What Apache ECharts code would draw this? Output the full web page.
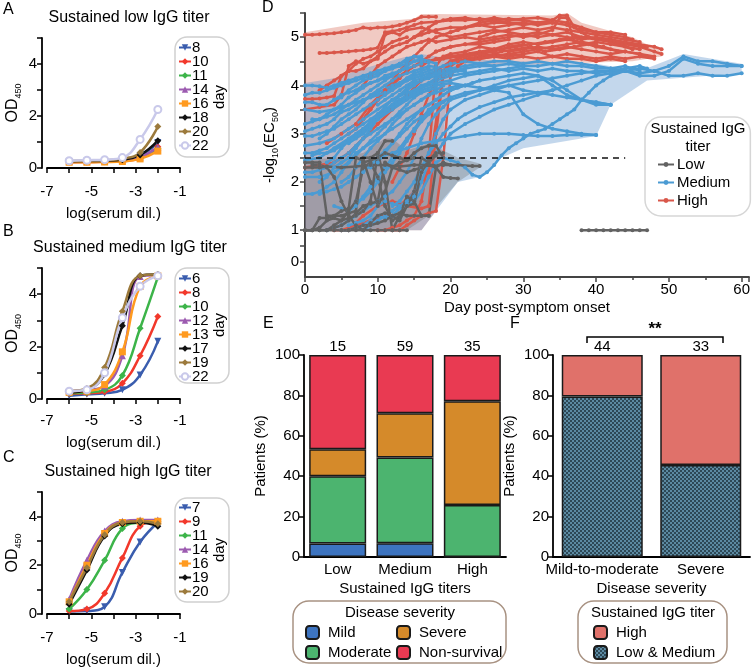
<!DOCTYPE html>
<html>
<head>
<meta charset="utf-8">
<script src="https://cdn.jsdelivr.net/npm/echarts@6/dist/echarts.min.js"></script>
<style>
  html, body { margin: 0; padding: 0; background: #fff; }
  #main { width: 753px; height: 668px; }
</style>
</head>
<body>
<div id="main"></div>
<script>
var FONT = "'Liberation Sans', Arial, Helvetica, sans-serif";

// ---- A-C: OD450 vs serum dilution ----
var dilutions = [-6, -5.2, -4.4, -3.6, -2.8, -2];
var lowDays = [8, 10, 11, 14, 16, 18, 20, 22];
var lowOD = [
  [0.25, 0.26, 0.27, 0.32, 0.48, 0.98],
  [0.22, 0.23, 0.24, 0.26, 0.38, 0.82],
  [0.24, 0.25, 0.26, 0.28, 0.40, 0.75],
  [0.25, 0.26, 0.27, 0.30, 0.42, 0.80],
  [0.22, 0.22, 0.23, 0.25, 0.35, 0.65],
  [0.26, 0.27, 0.28, 0.32, 0.50, 1.05],
  [0.27, 0.28, 0.30, 0.36, 0.60, 1.60],
  [0.28, 0.30, 0.32, 0.40, 1.10, 2.25]
];
var mediumDays = [6, 8, 10, 12, 13, 17, 19, 22];
var mediumOD = [
  [0.12, 0.18, 0.22, 0.35, 0.92, 2.20],
  [0.20, 0.22, 0.28, 0.60, 1.65, 3.15],
  [0.22, 0.25, 0.35, 0.90, 2.70, 4.65],
  [0.30, 0.35, 0.50, 1.65, 4.68, 4.72],
  [0.25, 0.30, 0.55, 1.80, 4.30, 4.70],
  [0.25, 0.35, 0.95, 2.80, 4.70, 4.75],
  [0.30, 0.40, 1.20, 3.35, 4.70, 4.75],
  [0.30, 0.35, 1.00, 3.10, 4.30, 4.70]
];
var highDays = [7, 9, 11, 14, 16, 19, 20];
var highOD = [
  [0.10, 0.12, 0.30, 1.70, 2.95, 3.75],
  [0.12, 0.20, 0.85, 2.30, 3.60, 3.80],
  [0.20, 1.00, 2.20, 3.50, 3.75, 3.80],
  [0.60, 2.20, 3.40, 3.80, 3.85, 3.85],
  [0.50, 2.00, 3.30, 3.75, 3.80, 3.80],
  [0.40, 1.80, 3.20, 3.70, 3.75, 3.60],
  [0.50, 1.90, 3.25, 3.75, 3.80, 3.70]
];
var curveColors = ['#3a5dae', '#f2382b', '#3cb449', '#9c5bb0', '#ff9a1f', '#111111', '#9c7a3c', '#c9c9ea'];
var curveSymbols = ['triangle', 'diamond', 'diamond', 'triangle', 'rect', 'diamond', 'diamond', 'emptyCircle'];

// ---- D: -log10(EC50) over time ----
var highLines = [
  [[0,5.05],[1,5.05],[2,5.06],[3,5.07],[4,5.08],[5,5.1],[6,5.12],[7,5.15],[8,5.2],[9,5.18],[10,5.2],[11,5.2],[12,5.22],[13,5.25],[14,5.3],[15,5.35],[16,5.42],[17,5.42],[18,5.42]],
  [[2,4.67],[3,4.67],[4,4.68],[5,4.69],[6,4.7],[7,4.72],[8,4.73],[9,4.75],[10,4.78],[11,5.1],[12,5.12],[13,5.15],[14,5.2],[15,5.25],[16,5.3],[18,5.32],[20,5.35],[22,5.35],[24,5.38],[26,5.35],[28,5.38],[30,5.35],[32,5.3],[34,5.35],[35,5.45],[36,5.45],[37,5.2],[39,5.0],[41,4.95],[43,4.85],[45,4.75]],
  [[0,3.72],[1,3.72],[2,3.73],[3,3.75],[4,3.78],[5,4.2],[6,4.3],[7,4.3],[8,4.35],[9,4.5],[10,4.6],[11,4.7],[12,4.8],[13,4.85],[14,4.9],[15,5.0],[16,5.05],[17,5.1],[18,5.15],[20,5.2],[22,5.2],[24,5.25],[26,5.3],[28,5.3],[30,5.3]],
  [[0,3.5],[2,3.55],[4,3.6],[5,3.8],[6,4.4],[7,4.5],[8,4.45],[10,4.55],[11,5.05],[12,5.1],[13,5.05],[14,5.15],[16,5.2],[18,5.1],[20,5.0],[22,5.05],[24,5.1],[26,5.15],[28,5.1],[30,5.05],[32,5.1],[34,5.05],[36,5.1],[38,5.0],[40,4.95],[42,4.9],[44,4.85],[46,4.8],[48,4.7],[49,4.65]],
  [[10,1.0],[11,1.0],[12,1.05],[13,1.1],[14,1.2],[15,1.3],[16,1.6],[17,2.5],[18,4.4],[19,4.6],[20,4.65],[22,4.7],[24,4.8],[26,4.75],[28,4.85],[30,4.9],[32,4.85],[34,4.9],[36,4.95],[38,4.9],[40,4.8],[42,4.75],[44,4.7],[46,4.65],[48,4.6]],
  [[4,1.0],[6,1.0],[8,1.3],[10,1.5],[12,1.6],[14,1.5],[16,1.45],[17,1.5],[18,3.0],[19,4.2],[20,4.4],[21,4.5],[23,4.55],[25,4.6],[27,4.7],[29,4.75],[31,4.8],[33,4.7],[35,4.75],[37,4.8],[39,4.85],[41,4.8],[43,4.7]],
  [[6,3.0],[7,3.1],[8,3.3],[9,3.5],[10,3.7],[11,3.9],[12,4.1],[13,4.3],[14,4.45],[15,4.6],[16,4.75],[17,4.9],[18,5.0],[19,5.05],[20,5.1],[21,5.15],[22,5.2],[24,5.25],[26,5.2],[28,5.25],[30,5.3],[32,5.25],[34,5.3]],
  [[3,2.8],[5,3.0],[7,3.2],[9,3.6],[11,3.9],[13,4.2],[15,4.4],[17,4.5],[19,4.55],[21,4.6],[23,4.65],[25,4.7],[27,4.75],[29,4.8],[31,4.85],[33,4.9],[35,4.95],[37,5.0],[39,5.0],[41,4.95],[43,4.9],[45,4.85],[47,4.8]],
  [[12,2.0],[13,2.3],[14,2.6],[15,3.0],[16,3.4],[17,3.8],[18,4.1],[19,4.3],[20,4.45],[22,4.55],[24,4.6],[26,4.65],[28,4.6],[30,4.65],[32,4.7],[34,4.6],[36,4.65],[38,4.6],[40,4.55],[42,4.6],[44,4.55],[46,4.6],[48,4.55]],
  [[14,4.9],[15,5.0],[16,5.1],[17,5.2],[18,5.3],[19,5.35],[20,5.38],[22,5.4],[24,5.35],[26,5.4],[28,5.35],[30,5.38],[32,5.4],[34,5.35],[36,5.3],[38,5.2],[40,5.1],[42,5.05],[44,5.0],[45,4.95]],
  [[8,4.0],[9,4.2],[10,4.4],[11,4.5],[12,4.6],[13,4.7],[14,4.8],[15,4.85],[16,4.9],[17,4.95],[18,4.9],[20,4.95],[22,5.0],[24,4.95],[26,5.0],[28,5.05],[30,5.0],[32,5.05],[34,5.15],[35,5.4],[36,5.4],[37,4.9],[38,4.85],[40,4.9],[42,4.85],[44,4.8],[46,4.75]],
  [[16,4.4],[17,4.5],[18,4.55],[20,4.6],[22,4.65],[24,4.7],[26,4.75],[28,4.7],[30,4.75],[32,4.8],[34,4.75],[36,4.8],[38,4.75],[40,4.7],[42,4.65],[44,4.7],[46,4.65],[47,4.6]],
  [[0,2.3],[2,2.35],[4,2.4],[6,2.6],[8,2.9],[10,3.2],[12,3.5],[14,3.8],[16,4.1],[18,4.3],[20,4.5],[22,4.6],[24,4.65],[26,4.7],[28,4.8],[30,4.85]],
  [[5,1.0],[7,1.1],[9,1.2],[11,1.3],[13,1.5],[15,1.8],[17,2.2],[19,4.3],[20,4.5],[22,4.6],[24,4.65],[26,4.6],[28,4.65],[30,4.7],[32,4.75],[34,4.8],[36,4.85],[38,4.9],[40,4.85]],
  [[18,4.7],[19,4.75],[20,4.8],[22,4.85],[24,4.9],[26,4.95],[28,5.0],[30,5.05],[32,5.0],[34,5.05],[36,5.0],[38,4.95],[40,5.0],[42,4.95],[44,4.9],[46,4.85],[48,4.8],[49,4.75]],
  [[20,5.1],[21,5.15],[22,5.2],[24,5.3],[26,5.35],[28,5.3],[30,5.25],[32,5.3],[34,5.3],[36,5.25],[38,5.15],[40,5.1],[42,5.1],[44,5.05]],
  [[22,4.5],[23,4.55],[24,4.55],[26,4.6],[28,4.55],[30,4.6],[32,4.55],[34,4.6],[36,4.55],[38,4.55],[40,4.5],[42,4.55],[44,4.5]],
  [[24,5.0],[25,5.05],[26,5.1],[28,5.15],[30,5.2],[32,5.15],[34,5.2],[36,5.15],[38,5.1],[40,5.05],[42,5.0],[44,4.95],[46,4.9]],
  [[2,3.9],[3,4.0],[4,4.1],[5,4.2],[6,4.3],[7,4.45],[8,4.55],[9,4.6],[10,4.7],[11,4.8],[12,4.9],[13,4.95],[14,5.0]],
  [[8,3.3],[9,3.5],[10,3.7],[11,3.85],[12,4.0],[13,4.15],[14,4.3],[15,4.4],[16,4.5],[17,4.6],[18,4.7],[19,4.75],[20,4.8],[22,4.85],[24,4.85],[26,4.9],[28,4.95]],
  [[12,1.0],[13,1.0],[14,1.1],[15,1.2],[16,1.3],[17,1.35],[18,1.4],[19,2.5],[20,4.2],[21,4.4],[22,4.5],[24,4.55],[26,4.6],[28,4.65],[30,4.6]]
];
var mediumLines = [
  [[0,4.0],[1,4.0],[2,3.98],[3,3.95],[4,4.0],[5,4.05],[6,4.1],[7,4.15],[8,4.2],[9,4.25],[10,4.3],[11,4.35],[12,4.4],[13,4.45],[14,4.5],[15,4.6],[16,4.55],[17,4.5],[18,4.45]],
  [[0,3.65],[1,3.65],[2,3.6],[3,3.6],[4,3.7],[5,3.8],[6,3.85],[7,3.9],[8,4.0],[9,4.05],[10,4.1],[11,4.15],[12,4.2],[13,4.3],[14,4.35],[15,4.4],[16,4.45]],
  [[0,3.5],[2,3.45],[4,3.5],[6,3.6],[8,3.7],[10,3.85],[12,4.0],[14,4.1],[16,4.2],[18,4.3],[20,4.35]],
  [[0,2.95],[1,2.95],[2,3.0],[3,3.05],[4,3.1],[5,3.2],[6,3.3],[7,3.4],[8,3.5],[9,3.6],[10,3.7],[11,3.8],[12,3.9],[13,4.0],[14,4.1],[15,4.2],[16,4.25],[17,4.3],[18,4.35],[19,4.4],[20,4.45],[22,4.5],[24,4.45],[26,4.5],[28,4.5],[30,4.45],[32,4.5],[34,4.45],[36,4.5],[38,4.45],[40,4.4],[42,4.35],[44,4.3],[46,4.2],[48,4.2],[50,4.3],[52,4.55],[54,4.45],[56,4.4],[58,4.4],[60,4.4]],
  [[0,2.6],[1,2.6],[2,2.65],[3,2.7],[4,2.8],[5,2.9],[6,3.0],[7,3.1],[8,3.2],[9,3.3],[10,3.4],[11,3.5],[12,3.6],[13,3.7],[14,3.8],[15,3.9],[16,4.0],[18,4.1],[20,4.2],[22,4.25],[24,4.3],[26,4.35],[28,4.3],[30,4.35],[32,4.3],[34,4.35],[36,4.3],[38,4.3],[40,4.25],[42,4.3],[44,4.3],[46,4.25],[48,4.3],[50,4.2],[52,4.2],[54,4.25],[56,4.2],[58,4.2],[60,4.25]],
  [[0,2.2],[1,2.2],[2,2.25],[3,2.3],[4,2.4],[5,2.5],[6,2.6],[7,2.75],[8,2.9],[9,3.0],[10,3.1],[11,3.2],[12,3.3],[13,3.4],[14,3.5],[15,3.6],[16,3.7],[17,3.8],[18,3.9],[19,4.0]],
  [[0,2.1],[2,2.1],[4,2.2],[6,2.4],[8,2.7],[10,2.9],[12,3.1],[14,3.3],[16,3.5],[18,3.7],[20,3.9],[22,4.0],[24,4.1],[26,4.15],[28,4.2],[30,4.25],[32,4.2],[34,4.0],[36,3.8],[38,3.7],[40,3.65],[42,3.6]],
  [[0,1.75],[1,1.75],[2,1.8],[3,1.9],[4,2.0],[5,2.2],[6,2.4],[7,2.6],[8,2.7],[9,2.85],[10,3.0],[11,3.15],[12,3.3],[13,3.45],[14,3.6],[15,3.75],[16,3.85],[17,3.9],[18,3.95]],
  [[3,1.0],[4,1.05],[5,1.1],[6,1.2],[7,1.3],[8,1.4],[9,1.5],[10,1.6],[11,1.7],[12,1.8],[13,2.0],[14,2.2],[15,2.5],[16,2.9],[17,3.2],[18,3.4],[19,3.55],[20,3.7],[22,3.8],[24,3.9],[26,3.95],[28,4.0],[30,3.9],[32,3.85],[34,3.8],[36,3.75],[38,3.7],[40,3.65],[42,3.6]],
  [[6,1.1],[7,1.15],[8,1.2],[9,1.3],[10,1.5],[11,1.6],[12,1.55],[13,1.5],[14,1.5],[15,1.6],[16,1.8],[17,2.1],[18,2.4],[19,2.5],[20,2.45],[21,2.4],[22,2.3],[23,2.15],[24,2.1],[25,2.2],[26,2.35],[27,2.55],[28,2.7],[29,2.8],[30,2.9],[31,3.0],[32,3.05],[33,3.1],[34,3.2],[35,3.3],[36,3.4],[37,3.5],[38,3.7],[39,3.85],[40,4.0],[41,4.1],[42,4.2],[44,4.3],[46,4.35],[48,4.3],[50,4.4],[52,4.6],[54,4.5],[56,4.5],[58,4.45],[60,4.4]],
  [[0,2.45],[2,2.5],[4,2.7],[6,2.9],[8,3.1],[10,3.3],[12,3.5],[14,3.7],[16,3.9],[18,4.0],[20,4.05],[22,4.0],[24,3.95],[26,3.9],[28,3.85],[30,3.4],[32,3.2],[34,3.1],[36,3.05],[38,3.0],[40,2.97]],
  [[10,2.5],[12,2.6],[14,2.7],[16,2.8],[18,2.85],[20,2.9],[22,2.95],[24,3.0],[26,3.0],[28,3.0],[30,2.97],[32,2.95],[34,2.95],[36,2.97],[38,2.97],[40,2.97]],
  [[4,1.5],[5,1.45],[6,1.4],[7,1.5],[8,1.7],[9,1.9],[10,2.1],[11,2.3],[12,2.5],[13,2.7],[14,2.9],[15,3.1],[16,3.3],[17,3.5],[18,3.6],[20,3.75],[22,3.85],[24,3.9],[26,4.0],[28,4.1],[30,4.15],[32,4.2],[34,4.1],[36,3.9],[38,3.7],[40,3.6],[42,3.6]],
  [[8,1.0],[9,1.1],[10,1.2],[11,1.3],[12,1.4],[13,1.5],[14,1.6],[15,1.8],[16,2.2],[17,2.6],[18,3.0],[19,3.3],[20,3.5],[22,3.7],[24,3.8],[26,3.9],[28,4.0],[30,4.05],[32,4.1],[34,4.15],[36,4.2],[38,4.25],[40,4.3],[42,4.3],[44,4.35],[46,4.4],[47,4.35]],
  [[1,3.3],[2,3.3],[3,3.35],[4,3.4],[5,3.5],[6,3.6],[7,3.7],[8,3.8],[9,3.9],[10,4.0],[11,4.1],[12,4.2],[13,4.3],[14,4.4],[15,4.5],[16,4.55]],
  [[2,2.0],[3,2.1],[4,2.3],[5,2.4],[6,2.5],[7,2.7],[8,2.9],[9,3.1],[10,3.3],[11,3.5],[12,3.6],[13,3.8],[14,3.9],[15,4.0],[16,4.1],[17,4.2],[18,4.25],[20,4.3],[22,4.35],[24,4.4],[26,4.4]],
  [[5,1.0],[6,1.0],[7,1.05],[8,1.1],[9,1.2],[10,1.3],[11,1.25],[12,1.3],[13,1.45],[14,1.55],[15,1.7],[16,2.0],[17,2.4],[18,2.6],[19,2.8],[20,3.0],[22,3.2],[24,3.35],[26,3.5],[28,3.6],[30,3.7],[32,3.8],[34,3.9],[36,4.0],[38,4.1],[40,4.2],[42,4.25],[44,4.3]],
  [[0,2.75],[2,2.8],[4,2.9],[6,3.1],[8,3.3],[10,3.5],[12,3.7],[14,3.85],[16,3.95],[18,4.05],[20,4.1],[22,4.2],[24,4.25],[26,4.3],[28,4.35],[30,4.4],[32,4.4],[34,4.45],[36,4.4],[38,4.4],[40,4.35],[42,4.35],[44,4.4],[46,4.3]],
  [[0,3.2],[1,3.25],[2,3.3],[3,3.4],[4,3.5],[5,3.6],[6,3.75],[7,3.85],[8,3.95],[9,4.05],[10,4.1],[11,4.2],[12,4.25],[13,4.3],[14,4.35]],
  [[2,2.9],[3,3.0],[4,3.15],[5,3.3],[6,3.4],[7,3.5],[8,3.65],[9,3.8],[10,3.9],[11,4.0],[12,4.1],[13,4.2],[14,4.25],[15,4.3],[16,4.35],[17,4.4],[18,4.38]],
  [[3,2.4],[4,2.5],[5,2.7],[6,2.85],[7,3.0],[8,3.1],[9,3.25],[10,3.4],[11,3.55],[12,3.7],[13,3.8],[14,3.95],[15,4.05],[16,4.1],[17,4.15],[18,4.2],[19,4.25],[20,4.3]],
  [[4,3.7],[5,3.75],[6,3.9],[7,4.0],[8,4.1],[9,4.15],[10,4.2],[11,4.3],[12,4.35],[13,4.45],[14,4.55],[15,4.6],[16,4.6]],
  [[5,2.0],[6,2.1],[7,2.3],[8,2.5],[9,2.7],[10,2.85],[11,3.0],[12,3.2],[13,3.35],[14,3.5],[15,3.6],[16,3.7],[17,3.8],[18,3.85],[19,3.9],[20,3.95],[21,4.0]],
  [[7,1.6],[8,1.65],[9,1.8],[10,2.0],[11,2.2],[12,2.4],[13,2.6],[14,2.85],[15,3.05],[16,3.25],[17,3.4],[18,3.55],[19,3.65],[20,3.75]],
  [[0,3.05],[1,3.1],[2,3.15],[3,3.2],[4,3.3],[5,3.45],[6,3.5],[7,3.6],[8,3.7],[9,3.75],[10,3.8],[11,3.85],[12,3.95],[13,4.05],[14,4.15],[15,4.25],[16,4.3],[17,4.35]],
  [[6,2.8],[7,2.9],[8,3.0],[9,3.15],[10,3.3],[11,3.45],[12,3.55],[13,3.65],[14,3.75],[15,3.85],[16,3.95],[17,4.05],[18,4.15],[19,4.2],[20,4.25],[21,4.3],[22,4.3]],
  [[9,2.3],[10,2.4],[11,2.6],[12,2.8],[13,3.0],[14,3.2],[15,3.35],[16,3.5],[17,3.6],[18,3.7],[19,3.8],[20,3.9],[21,3.95],[22,4.0],[23,4.05],[24,4.1]],
  [[1,2.55],[2,2.6],[3,2.6],[4,2.65],[5,2.75],[6,2.85],[7,2.95],[8,3.05],[9,3.2],[10,3.35],[11,3.45],[12,3.55],[13,3.65],[14,3.75],[15,3.8],[16,3.9]],
  [[10,3.6],[11,3.7],[12,3.8],[13,3.9],[14,4.0],[15,4.1],[16,4.15],[17,4.2],[18,4.25],[19,4.3],[20,4.35],[22,4.4],[24,4.45],[26,4.4],[28,4.45],[30,4.4]],
  [[2,1.75],[3,1.8],[4,1.85],[5,1.9],[6,2.0],[7,2.1],[8,2.2],[9,2.35],[10,2.5],[11,2.65],[12,2.8],[13,2.95],[14,3.1],[15,3.25],[16,3.35],[17,3.45],[18,3.55]],
  [[12,1.5],[13,1.6],[14,1.8],[15,2.0],[16,2.3],[17,2.6],[18,2.8],[19,3.0],[20,3.15],[21,3.3],[22,3.4],[24,3.55],[26,3.65],[28,3.75],[30,3.8],[32,3.85],[34,3.9]],
  [[0,3.8],[1,3.85],[2,3.85],[3,3.9],[4,3.95],[5,4.0],[6,4.05],[7,4.1],[8,4.15],[9,4.2],[10,4.25],[11,4.3],[12,4.35],[13,4.4],[14,4.45],[15,4.5],[16,4.5],[17,4.48]]
];
var lowLines = [
  [[0,2.3],[1,2.3],[2,2.3],[3,2.32],[5,2.3],[7,2.32],[9,2.35],[11,2.35],[13,2.32],[15,2.35],[17,2.35],[19,2.35],[21,2.35],[23,2.33],[24,2.33]],
  [[0,2.4],[1,2.4],[2,2.4],[3,1.3],[4,1.3],[5,1.3],[6,1.35],[7,1.4],[8,2.5],[9,2.5],[10,2.6],[11,2.85],[12,2.85]],
  [[0,1.0],[1,1.0],[2,1.0],[3,1.0],[4,1.0],[5,1.0],[6,1.0],[7,1.0],[8,1.0],[9,1.0],[10,1.0],[11,1.0],[12,1.0],[13,1.0],[14,1.0]],
  [[0,1.0],[1,1.0],[2,1.25],[3,1.25],[4,1.3],[5,1.4],[6,1.45],[7,2.5],[8,2.45],[9,2.0],[10,1.5],[11,1.8],[12,2.3],[13,2.4],[14,2.45],[15,2.5]],
  [[2,1.0],[3,1.0],[4,1.1],[5,1.2],[6,1.25],[7,1.3],[8,1.4],[9,1.6],[10,2.6],[11,2.0],[12,1.0],[13,1.3],[14,1.5],[15,1.8],[16,2.5],[17,2.4],[18,2.55]],
  [[1,2.35],[2,2.35],[3,2.3],[4,2.1],[5,1.6],[6,1.3],[7,1.1],[8,1.0],[9,1.15],[10,1.3],[11,1.35],[12,1.3],[13,1.2],[14,1.5],[15,1.55],[16,2.2],[17,2.45],[18,2.6],[19,2.6]],
  [[3,1.0],[4,1.05],[5,1.1],[6,1.2],[7,1.35],[8,1.5],[9,1.55],[10,1.6],[11,2.4],[12,2.3],[13,2.25],[14,2.2],[15,2.25],[16,2.3],[17,2.35],[18,2.3],[19,2.1],[20,2.08],[21,2.07]],
  [[5,1.0],[6,1.0],[7,1.05],[8,1.1],[9,1.1],[10,1.15],[11,1.2],[12,1.3],[13,1.35],[14,1.3],[15,1.3],[16,1.3],[17,1.3],[18,2.3],[19,2.4],[20,2.35]],
  [[8,2.4],[9,2.45],[10,2.5],[11,2.6],[12,2.55],[13,2.5],[14,2.45],[15,2.6],[16,2.7],[17,2.75],[18,2.75],[19,2.5]],
  [[0,1.0],[1,1.0],[2,1.05],[3,1.2],[4,1.25],[5,1.2],[6,1.4],[7,1.6],[8,2.3],[9,2.4],[10,2.1],[11,1.5],[12,1.2],[13,1.3],[14,1.7],[15,1.6],[16,1.3],[17,1.3]],
  [[38,1.0],[39,1.0],[40,1.0],[41,1.0],[42,1.0],[43,1.0],[44,1.0],[45,1.0],[46,1.0],[47,1.0]]
];
// range envelopes per group
var highBandUpper = [[0,5.1],[8,5.3],[15,5.38],[16,5.48],[18,5.48],[34,5.45],[36,5.5],[38,5.3],[45,5.0],[49,4.7]];
var highBandLower = [[0,1.0],[16,1.0],[18,1.4],[19,3.0],[20,4.3],[24,4.4],[35,4.45],[45,4.5],[49,4.6]];
var mediumBandUpper = [[0,4.05],[4,4.15],[8,4.35],[14,4.6],[16,4.65],[20,4.55],[30,4.5],[40,4.45],[46,4.3],[52,4.65],[60,4.45]];
var mediumBandLower = [[0,1.0],[16,1.0],[18,1.4],[21,2.0],[24,2.1],[27,2.5],[30,2.7],[40,2.95],[42,3.6],[47,4.1],[60,4.25]];
var lowBandUpper = [[0,2.45],[4,2.5],[8,2.6],[11,2.9],[12,2.9],[14,2.65],[17,2.8],[19,2.65],[21,2.5],[24,2.38]];
var lowBandLower = [[0,1.0],[14,1.0],[17,1.3],[21,2.0],[24,2.3]];
var cutoffValue = 2.5;
var cutoffEndDay = 44;
var dLabelValues = [0.34, 1, 2, 3, 4, 5];
var dTickValues = [0.34, 0.67, 1, 1.5, 2, 2.5, 3, 3.5, 4, 4.5, 5, 5.5];

// ---- E: disease severity by sustained titer ----
var titerGroups = ['Low', 'Medium', 'High'];
var titerCounts = [15, 59, 35];
var mildPct = [6.7, 6.8, 0];
var moderatePct = [33.3, 42.4, 25.7];
var severePct = [13.3, 22.0, 51.4];
var nonSurvivalPct = [46.7, 28.8, 22.9];

// ---- F: titer by disease severity ----
var severityGroups = ['Mild-to-moderate', 'Severe'];
var severityCounts = [44, 33];
var lowMediumPct = [79.5, 45.5];
var highTiterPct = [20.5, 54.5];

var RED = '#d9574a', BLUE = '#4b9bd3', GRAY = '#626262';

function checker() {
  var c = document.createElement('canvas');
  c.width = 4; c.height = 4;
  var ctx = c.getContext('2d');
  ctx.fillStyle = '#2d4856';
  ctx.fillRect(0, 0, 4, 4);
  ctx.fillStyle = '#5c8aa2';
  ctx.fillRect(0, 0, 2, 2);
  ctx.fillRect(2, 2, 2, 2);
  return c;
}

function odSeries(prefix, days, values, gi) {
  return days.map(function (d, k) {
    var s = {
      type: 'line', name: prefix + d, xAxisIndex: gi, yAxisIndex: gi,
      data: dilutions.map(function (x, j) { return [x, values[k][j]]; }),
      smooth: 0.45, symbol: curveSymbols[k], symbolRotate: k === 0 ? 180 : 0, symbolSize: 7,
      lineStyle: { width: 2.5, color: curveColors[k] },
      itemStyle: { color: curveColors[k] }
    };
    if (k === 0) {
      s.markLine = {
        silent: true, symbol: 'none', label: { show: false },
        lineStyle: { type: 'dotted', color: '#000', width: 1.5 },
        data: [{ yAxis: 0 }]
      };
    }
    return s;
  });
}

function trajSeries(name, lines, color) {
  return lines.map(function (line) {
    return {
      type: 'line', name: name, xAxisIndex: 3, yAxisIndex: 3, data: line,
      symbol: 'circle', symbolSize: 4, z: 3,
      lineStyle: { width: 2.5, color: color }, itemStyle: { color: color }
    };
  });
}

function bandSeries(name, upper, lower, fill) {
  var poly = upper.concat(lower.slice().reverse());
  return {
    type: 'custom', name: name, xAxisIndex: 3, yAxisIndex: 3, z: 1, silent: true,
    data: poly,
    renderItem: function (params, api) {
      if (params.dataIndex !== 0) return;
      return {
        type: 'polygon',
        shape: { points: poly.map(function (p) { return api.coord(p); }) },
        style: { fill: fill }
      };
    }
  };
}

function odXAxis(gi, off) {
  return {
    gridIndex: gi, type: 'value', min: -7, max: -1, interval: 1, offset: off,
    splitLine: { show: false },
    axisLine: { lineStyle: { color: '#000', width: 1.8 } },
    axisTick: { length: 5, lineStyle: { color: '#000', width: 1.5 } },
    axisLabel: { color: '#000', fontSize: 15, margin: 3,
      formatter: function (v) { return v % 2 !== 0 ? v : ''; } },
    name: 'log(serum dil.)', nameLocation: 'middle', nameGap: 25,
    nameTextStyle: { color: '#000', fontSize: 15 }
  };
}

function odYAxis(gi) {
  return {
    gridIndex: gi, type: 'value', min: 0, max: 5, interval: 1, offset: 5,
    splitLine: { show: false },
    axisLine: { show: true, lineStyle: { color: '#000', width: 1.8 } },
    axisTick: { show: true, length: 5, lineStyle: { color: '#000', width: 1.5 } },
    axisLabel: { color: '#000', fontSize: 15, margin: 5,
      formatter: function (v) { return v % 2 === 0 ? v : ''; } },
    name: '{a|OD}{b|450}', nameLocation: 'middle', nameGap: 19,
    nameTextStyle: { rich: {
      a: { fontSize: 16, color: '#000', lineHeight: 20, verticalAlign: 'middle' },
      b: { fontSize: 9, color: '#000', lineHeight: 20, verticalAlign: 'bottom', padding: [6, 0, 0, 0] }
    } }
  };
}

function curveLegend(prefix, days, top) {
  return {
    data: days.map(function (d) { return prefix + d; }),
    formatter: function (n) { return n.slice(1); },
    orient: 'vertical', left: 178, top: top,
    itemWidth: 12, itemHeight: 8, itemGap: -1, padding: 0,
    textStyle: { fontSize: 15, color: '#000', padding: [0, 0, 0, -4] }
  };
}

var chart = echarts.init(document.getElementById('main'));

var series = []
  .concat(odSeries('A', lowDays, lowOD, 0))
  .concat(odSeries('B', mediumDays, mediumOD, 1))
  .concat(odSeries('C', highDays, highOD, 2))
  .concat([
    bandSeries('HighBand', highBandUpper, highBandLower, 'rgba(214,104,84,0.35)'),
    bandSeries('MediumBand', mediumBandUpper, mediumBandLower, 'rgba(82,140,200,0.35)'),
    bandSeries('LowBand', lowBandUpper, lowBandLower, 'rgba(105,105,105,0.32)')
  ])
  .concat(trajSeries('High', highLines, RED))
  .concat(trajSeries('Medium', mediumLines, BLUE))
  .concat(trajSeries('Low', lowLines, GRAY));

// cutoff line on the last trajectory
series[series.length - 1].markLine = {
  silent: true, symbol: 'none', label: { show: false },
  lineStyle: { type: [6, 5], color: '#111', width: 1.5 },
  data: [[{ coord: [0, cutoffValue] }, { coord: [cutoffEndDay, cutoffValue] }]]
};

var barBorder = { borderColor: '#1a1a1a', borderWidth: 1.5 };
function stackBar(name, data, color, gi, stack, width) {
  return {
    type: 'bar', name: name, xAxisIndex: gi, yAxisIndex: gi, stack: stack, data: data,
    barWidth: width, itemStyle: Object.assign({ color: color }, barBorder)
  };
}
var eTop = stackBar('Non-survival', nonSurvivalPct, '#e93a52', 4, 'e', 57);
eTop.label = { show: true, position: 'top', distance: 1, color: '#000', fontSize: 15,
  formatter: function (p) { return titerCounts[p.dataIndex]; } };
var fTop = stackBar('F:High', highTiterPct, '#e0716a', 5, 'f', 81);
fTop.label = { show: true, position: 'top', distance: 1, color: '#000', fontSize: 15,
  formatter: function (p) { return severityCounts[p.dataIndex]; } };

series = series.concat([
  stackBar('Mild', mildPct, '#3d74c0', 4, 'e', 57),
  stackBar('Moderate', moderatePct, '#4cb46f', 4, 'e', 57),
  stackBar('Severe', severePct, '#d58a2a', 4, 'e', 57),
  eTop,
  stackBar('F:Low & Medium', lowMediumPct, { image: checker(), repeat: 'repeat' }, 5, 'f', 81),
  fTop
]);

var pctYAxis = function (gi) {
  return {
    gridIndex: gi, type: 'value', min: 0, max: 100, interval: 20,
    splitLine: { show: false },
    axisLine: { show: true, lineStyle: { color: '#000', width: 1.8 } },
    axisTick: { show: true, length: 5, lineStyle: { color: '#000', width: 1.5 } },
    axisLabel: { color: '#000', fontSize: 15, margin: 4 },
    name: 'Patients (%)', nameLocation: 'middle', nameGap: 36,
    nameTextStyle: { color: '#000', fontSize: 15 }
  };
};
var catXAxis = function (gi, data, title) {
  return {
    gridIndex: gi, type: 'category', data: data,
    axisLine: { lineStyle: { color: '#000', width: 1.8 } },
    axisTick: { show: false },
    axisLabel: { color: '#000', fontSize: 15, margin: 5, interval: 0 },
    name: title, nameLocation: 'middle', nameGap: 24,
    nameTextStyle: { color: '#000', fontSize: 15 }
  };
};

var titleStyle = { font: '16px ' + FONT, fill: '#000', textAlign: 'center', textVerticalAlign: 'middle' };
var letterStyle = function (t) { return { text: t, font: '16px ' + FONT, fill: '#000' }; };
var dayStyle = { text: 'day', font: '15px ' + FONT, fill: '#000', textAlign: 'center', textVerticalAlign: 'middle' };
var boxStyle = function (stroke) { return { fill: 'none', stroke: stroke, lineWidth: 1.5 }; };
var smallLegend = function (names, left, fmt) {
  return {
    data: names, orient: 'vertical', left: left, top: 625, padding: 0,
    formatter: fmt, itemWidth: 13, itemHeight: 13, itemGap: 5,
    textStyle: { fontSize: 15, color: '#000', padding: [0, 0, 0, 4] }
  };
};

chart.setOption({
  animation: false,
  textStyle: { fontFamily: FONT },
  grid: [
    { left: 47, top: 38, width: 133, height: 130 },
    { left: 47, top: 268, width: 133, height: 131 },
    { left: 47, top: 492, width: 133, height: 128 },
    { left: 305, top: 13, width: 445, height: 264 },
    { left: 304, top: 355, width: 202, height: 202 },
    { left: 553, top: 355, width: 197, height: 202 }
  ],
  xAxis: [
    odXAxis(0, 13), odXAxis(1, 11), odXAxis(2, 13),
    {
      gridIndex: 3, type: 'value', min: 0, max: 61, interval: 10,
      splitLine: { show: false },
      axisLine: { lineStyle: { color: '#444', width: 2 } },
      axisTick: { length: 5, lineStyle: { color: '#444', width: 1.5 } },
      minorTick: { show: true, splitNumber: 2, length: 3, lineStyle: { color: '#444', width: 1.5 } },
      axisLabel: { color: '#000', fontSize: 15, margin: 5 },
      name: 'Day post-symptom onset', nameLocation: 'middle', nameGap: 23,
      nameTextStyle: { color: '#000', fontSize: 15 }
    },
    catXAxis(4, titerGroups, 'Sustained IgG titers'),
    catXAxis(5, severityGroups, 'Disease severity')
  ],
  yAxis: [
    odYAxis(0), odYAxis(1), odYAxis(2),
    {
      gridIndex: 3, type: 'value', min: 0.03, max: 5.5,
      splitLine: { show: false },
      axisLine: { show: true, lineStyle: { color: '#444', width: 2 } },
      axisTick: { show: true, length: 5, customValues: dTickValues, lineStyle: { color: '#444', width: 1.5 } },
      axisLabel: { color: '#000', fontSize: 15, margin: 6, customValues: dLabelValues,
        formatter: function (v) { return v < 0.5 ? '0' : Math.round(v); } },
      name: '{n|-log}{s|10}{n|(EC}{s|50}{n|)}', nameLocation: 'middle', nameGap: 22,
      nameTextStyle: { rich: {
        n: { fontSize: 15, color: '#000', lineHeight: 20, verticalAlign: 'middle' },
        s: { fontSize: 9, color: '#000', lineHeight: 20, verticalAlign: 'bottom', padding: [6, 0, 0, 0] }
      } }
    },
    pctYAxis(4), pctYAxis(5)
  ],
  legend: [
    curveLegend('A', lowDays, 40),
    curveLegend('B', mediumDays, 271),
    curveLegend('C', highDays, 500),
    {
      data: ['Low', 'Medium', 'High'], orient: 'vertical', left: 645, top: 117,
      itemWidth: 16, itemHeight: 6, itemGap: 3, padding: [40, 20, 8, 12],
      backgroundColor: '#fff', borderColor: '#d6d6d6', borderWidth: 1.5, borderRadius: 16,
      textStyle: { fontSize: 15, color: '#000', padding: [0, 0, 0, -2] }
    },
    smallLegend(['Mild', 'Moderate'], 305),
    smallLegend(['Severe', 'Non-survival'], 396),
    smallLegend(['F:High', 'F:Low & Medium'], 593, function (n) { return n.replace('F:', ''); })
  ],
  graphic: [
    { type: 'text', left: 3, top: 2, style: letterStyle('A') },
    { type: 'text', left: 3, top: 224, style: letterStyle('B') },
    { type: 'text', left: 3, top: 450, style: letterStyle('C') },
    { type: 'text', left: 262, top: 0, style: letterStyle('D') },
    { type: 'text', left: 263, top: 316, style: letterStyle('E') },
    { type: 'text', left: 510, top: 316, style: letterStyle('F') },
    { type: 'text', x: 129, y: 18, style: Object.assign({ text: 'Sustained low IgG titer' }, titleStyle) },
    { type: 'text', x: 130, y: 248, style: Object.assign({ text: 'Sustained medium IgG titer' }, titleStyle) },
    { type: 'text', x: 128, y: 472, style: Object.assign({ text: 'Sustained high IgG titer' }, titleStyle) },
    { type: 'rect', shape: { x: 175, y: 37, width: 54, height: 120, r: 12 }, style: boxStyle('#d0d0d0') },
    { type: 'rect', shape: { x: 175, y: 268, width: 54, height: 115, r: 12 }, style: boxStyle('#d0d0d0') },
    { type: 'rect', shape: { x: 175, y: 498, width: 54, height: 104, r: 12 }, style: boxStyle('#d0d0d0') },
    { type: 'text', x: 220, y: 97, rotation: Math.PI / 2, style: dayStyle },
    { type: 'text', x: 220, y: 325, rotation: Math.PI / 2, style: dayStyle },
    { type: 'text', x: 220, y: 550, rotation: Math.PI / 2, style: dayStyle },
    { type: 'text', x: 698, y: 120, z: 100, style: { text: 'Sustained IgG\ntiter', font: '15px ' + FONT, lineHeight: 18, fill: '#000', textAlign: 'center' } },
    { type: 'rect', shape: { x: 293, y: 601, width: 213, height: 62, r: 16 }, style: boxStyle('#a89282') },
    { type: 'text', x: 400, y: 605, style: { text: 'Disease severity', font: '15px ' + FONT, fill: '#000', textAlign: 'center' } },
    { type: 'rect', shape: { x: 578, y: 601, width: 149, height: 62, r: 16 }, style: boxStyle('#a89282') },
    { type: 'text', x: 653, y: 605, style: { text: 'Sustained IgG titer', font: '15px ' + FONT, fill: '#000', textAlign: 'center' } },
    { type: 'polyline', shape: { points: [[587, 343], [587, 337], [723, 337], [723, 343]] }, style: { fill: 'none', stroke: '#000', lineWidth: 1.5 } },
    { type: 'text', x: 655, y: 329, style: { text: '**', font: 'bold 17px ' + FONT, fill: '#000', textAlign: 'center', textVerticalAlign: 'middle' } }
  ],
  series: series
});
</script>
</body>
</html>
